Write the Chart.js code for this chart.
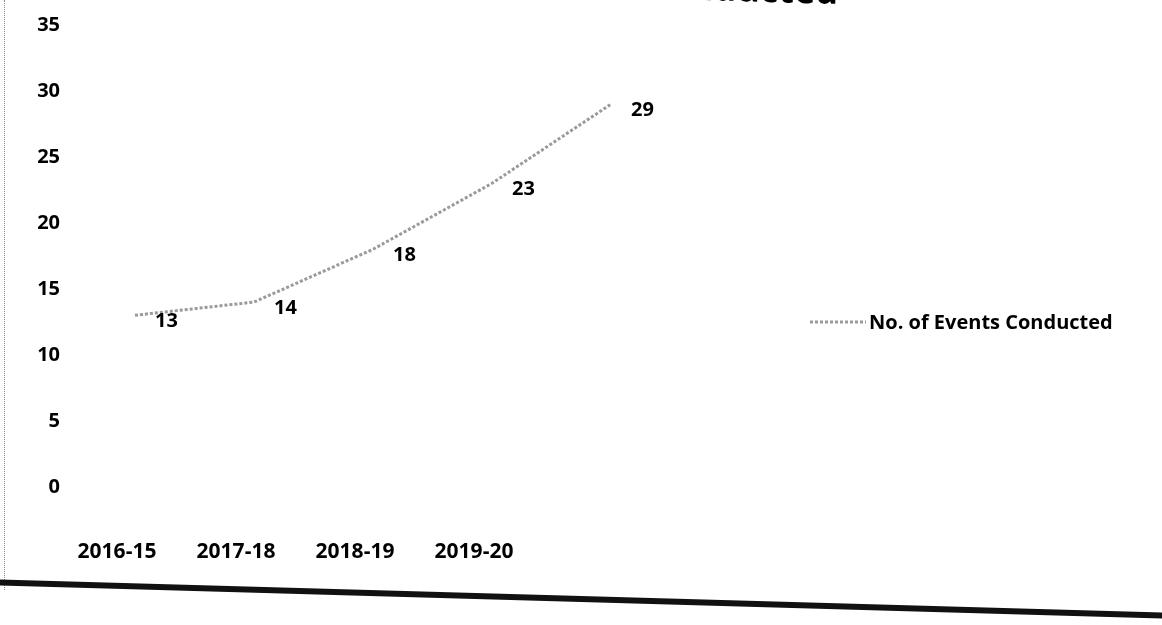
<!DOCTYPE html>
<html>
<head>
<meta charset="utf-8">
<script src="https://cdn.jsdelivr.net/npm/chart.js@4.4.1/dist/chart.umd.min.js"></script>
<style>
  html, body { margin: 0; padding: 0; background: #fff; }
  #wrap { position: relative; width: 1162px; height: 625px; overflow: hidden; }
  #eventsChart { position: absolute; left: 0; top: 0; }
  /* bordas do scan */
  #leftEdge { position: absolute; left: 4px; top: 0; height: 590px; border-left: 1px dotted #888; }
  #bottomEdge { position: absolute; left: -5px; top: 596px; width: 1175px; height: 6px; background: #111; transform: rotate(1.63deg); transform-origin: center; }
</style>
</head>
<body>
<div id="wrap">
  <canvas id="eventsChart" width="1162" height="625"></canvas>
  <div id="leftEdge"></div>
  <div id="bottomEdge"></div>
</div>
<script>
// dados
const years = ['2016-15', '2017-18', '2018-19', '2019-20', ''];
const eventsConducted = [13, 14, 18, 23, 29];
const yTicks = [0, 5, 10, 15, 20, 25, 30, 35];
const seriesName = 'No. of Events Conducted';
const chartTitle = 'No. of Events Conducted';

const fontFamily = '"Open Sans", "Liberation Sans", sans-serif';

// rótulos de dados, legenda e título (cortado no topo)
const extrasPlugin = {
    id: 'extras',
    afterDatasetsDraw(chart) {
        const ctx = chart.ctx;
        const meta = chart.getDatasetMeta(0);
        ctx.save();
        ctx.fillStyle = '#000';
        ctx.font = 'bold 20px ' + fontFamily;
        ctx.textAlign = 'left';
        ctx.textBaseline = 'middle';
        meta.data.forEach((pt, i) => {
            ctx.fillText(String(eventsConducted[i]), pt.x + 20, pt.y + 6);
        });

        // legenda
        ctx.strokeStyle = '#9a9a9a';
        ctx.lineWidth = 3;
        ctx.setLineDash([3, 2]);
        ctx.beginPath();
        ctx.moveTo(810, 322);
        ctx.lineTo(866, 322);
        ctx.stroke();
        ctx.setLineDash([]);
        ctx.fillText(seriesName, 869, 323);

        // título, inclinado e cortado como no scan
        ctx.font = 'bold 36px ' + fontFamily;
        ctx.textAlign = 'right';
        ctx.textBaseline = 'alphabetic';
        ctx.translate(838, 4);
        ctx.rotate(0.03);
        ctx.fillText(chartTitle, 0, 0);
        ctx.restore();
    }
};

const ctxLine = document.getElementById('eventsChart').getContext('2d');

const eventsChart = new Chart(ctxLine, {
    type: 'line',
    data: {
        labels: years,
        datasets: [{
            label: seriesName,
            data: eventsConducted,
            borderColor: '#9a9a9a',
            borderWidth: 3,
            borderDash: [3, 2],
            pointRadius: 0,
            fill: false,
            tension: 0
        }]
    },
    options: {
        responsive: false,
        animation: false,
        layout: {
            padding: { left: 20, right: 551, top: 25, bottom: 15 }
        },
        plugins: {
            legend: { display: false },
            title: { display: false },
            tooltip: { enabled: false }
        },
        scales: {
            x: {
                offset: false,
                grid: { display: false },
                border: { display: false },
                afterFit: (axis) => {
                    axis.paddingLeft = 0;
                    axis.paddingRight = 0;
                },
                ticks: {
                    color: '#000',
                    padding: 45,
                    labelOffset: -18,
                    maxRotation: 0,
                    autoSkip: false,
                    font: { family: fontFamily, size: 21, weight: 'bold' }
                }
            },
            y: {
                min: 0,
                max: 35,
                afterBuildTicks: (axis) => {
                    axis.ticks = yTicks.map(v => ({ value: v }));
                },
                afterFit: (axis) => {
                    axis.paddingTop = 0;
                    axis.paddingBottom = 0;
                    axis.width = 115;
                },
                grid: { display: false, drawTicks: false },
                border: { display: false },
                ticks: {
                    color: '#000',
                    padding: 75,
                    font: { family: fontFamily, size: 20, weight: 'bold' }
                }
            }
        }
    },
    plugins: [extrasPlugin]
});
</script>
</body>
</html>
